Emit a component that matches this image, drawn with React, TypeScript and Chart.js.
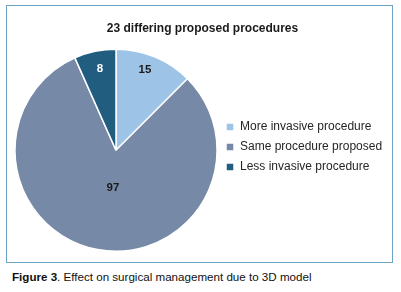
import React, { useEffect, useRef } from "react";
import { Chart, registerables } from "chart.js";

Chart.register(...registerables);

const TITLE = "23 differing proposed procedures";
const CATEGORIES = ["More invasive procedure", "Same procedure proposed", "Less invasive procedure"];
const VALUES = [15, 97, 8];
const COLORS = ["#9dc3e6", "#7689a6", "#215d7f"];
const LABEL_COLORS = ["#1a1a1a", "#1a1a1a", "#ffffff"];
const LABEL_RADIUS = [0.85, 0.377, 0.82];
const LABEL_ANGLE_SHIFT = [-2.8, -6, 0.8];

const FONT = "'Liberation Sans', Arial, sans-serif";

const valueLabels = {
  id: "valueLabels",
  afterDatasetsDraw(chart: any) {
    const ctx = chart.ctx;
    const meta = chart.getDatasetMeta(0);
    ctx.save();
    ctx.font = "bold 11.5px " + FONT;
    ctx.textAlign = "center";
    ctx.textBaseline = "middle";
    meta.data.forEach((arc: any, i: number) => {
      const { x, y, startAngle, endAngle, outerRadius } = arc.getProps(
        ["x", "y", "startAngle", "endAngle", "outerRadius"],
        true
      );
      const mid = (startAngle + endAngle) / 2 + (LABEL_ANGLE_SHIFT[i] * Math.PI) / 180;
      const r = outerRadius * LABEL_RADIUS[i];
      ctx.fillStyle = LABEL_COLORS[i];
      ctx.fillText(String(chart.data.datasets[0].data[i]), x + Math.cos(mid) * r, y + Math.sin(mid) * r);
    });
    ctx.restore();
  },
};

export default function App() {
  const ref = useRef<HTMLCanvasElement>(null);
  useEffect(() => {
    document.body.style.margin = "0";
    const chart = new Chart(ref.current!, {
      type: "pie",
      data: {
        labels: CATEGORIES,
        datasets: [
          {
            data: VALUES,
            backgroundColor: COLORS,
            borderColor: "#ffffff",
            borderWidth: 1.5,
          },
        ],
      },
      options: {
        responsive: false,
        animation: false,
        layout: { padding: { left: 7, right: 0, top: 0, bottom: 9 } },
        plugins: {
          title: {
            display: true,
            text: TITLE,
            color: "#1a1a1a",
            font: { family: FONT, size: 12, weight: "bold" },
            padding: { top: 15, bottom: 13 },
          },
          legend: {
            position: "right",
            maxWidth: 173,
            title: {
              display: true,
              text: "",
              font: { family: FONT, size: 12 },
              padding: { top: 0, bottom: 21.6 },
            },
            labels: {
              boxWidth: 8,
              boxHeight: 8,
              padding: 8,
              color: "#262626",
              font: { family: FONT, size: 12 },
            },
          },
          tooltip: { enabled: false },
        },
      },
      plugins: [valueLabels],
    });
    return () => chart.destroy();
  }, []);

  return (
    <div style={{ position: "relative", width: 401, height: 292, background: "#fff" }}>
      <div
        style={{
          position: "absolute",
          left: 6,
          top: 5,
          width: 387,
          height: 258,
          boxSizing: "border-box",
          border: "1px solid #6ba4c4",
        }}
      />
      <canvas
        ref={ref}
        width={384}
        height={255}
        style={{ position: "absolute", left: 7, top: 6, width: 384, height: 255 }}
      />
      <div
        style={{
          position: "absolute",
          left: 12,
          top: 270,
          fontFamily: FONT,
          fontSize: 11.6,
          color: "#111",
          whiteSpace: "nowrap",
        }}
      >
        <b>Figure 3</b>. Effect on surgical management due to 3D model
      </div>
    </div>
  );
}
